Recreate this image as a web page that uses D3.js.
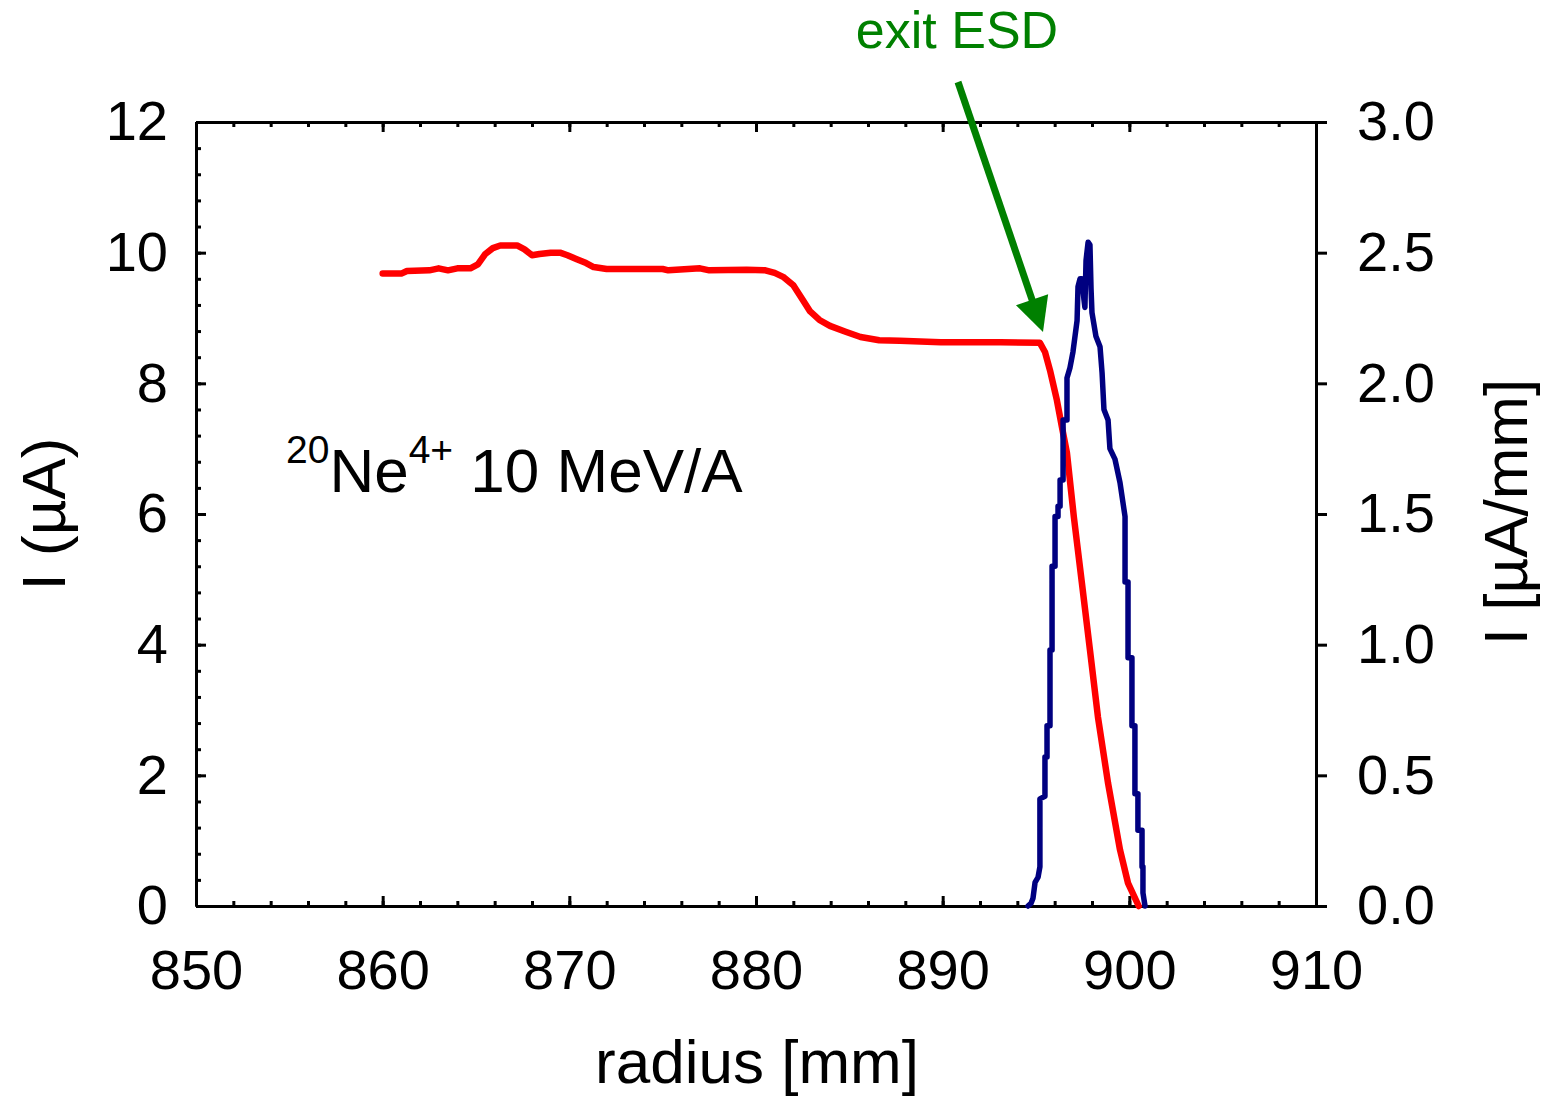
<!DOCTYPE html>
<html>
<head>
<meta charset="utf-8">
<script src="https://cdn.jsdelivr.net/npm/d3@7"></script>
<style>
  html, body { margin: 0; padding: 0; background: #fff; }
  svg { display: block; font-family: "Liberation Sans", Arial, sans-serif; }
</style>
</head>
<body>
<svg id="chart" width="1546" height="1097"></svg>
<script>
// Integrated beam current I (µA) versus radius, left axis
const currentRadius = [
  860.0, 861.0, 861.3, 862.5, 863.0, 863.5, 864.0, 864.7, 865.1, 865.5,
  865.9, 866.3, 867.2, 867.6, 868.0, 868.4, 869.0, 869.5, 869.9, 870.4,
  870.9, 871.3, 872.0, 875.0, 875.3, 877.0, 877.5, 879.5, 880.5, 881.0,
  881.45, 882.0, 882.5, 882.9, 883.4, 883.96, 884.8, 885.6, 886.6, 887.7,
  889.9, 893.1, 895.21, 895.48, 895.75, 896.12, 896.39, 896.66, 897.03, 897.46,
  897.89, 898.32, 898.86, 899.5, 899.93, 900.5
];
const currentValues = [
  9.68, 9.68, 9.72, 9.73, 9.76, 9.73, 9.76, 9.76, 9.82, 9.98,
  10.07, 10.11, 10.11, 10.05, 9.96, 9.98, 10.0, 10.0, 9.96, 9.9,
  9.84, 9.78, 9.75, 9.75, 9.73, 9.76, 9.73, 9.74, 9.73, 9.69,
  9.63, 9.5, 9.28, 9.1, 8.97, 8.88, 8.79, 8.71, 8.66, 8.65,
  8.63, 8.63, 8.62, 8.48, 8.2, 7.74, 7.33, 6.93, 5.95, 4.94,
  3.92, 2.89, 1.88, 0.86, 0.35, 0.0
];

// Current density dI/dr (µA/mm) versus radius, right axis
const densityRadius = [
  894.57, 894.73, 894.84, 894.95, 895.11, 895.21, 895.21, 895.48, 895.48, 895.59,
  895.59, 895.75, 895.75, 895.86, 895.86, 896.02, 896.02, 896.18, 896.18, 896.29,
  896.29, 896.45, 896.45, 896.66, 896.66, 896.82, 896.98, 897.2, 897.25, 897.36,
  897.46, 897.57, 897.62, 897.68, 897.79, 897.89, 897.95, 898.0, 898.21, 898.43,
  898.54, 898.64, 898.86, 898.96, 899.23, 899.5, 899.77, 899.77, 899.93, 899.93,
  900.14, 900.14, 900.3, 900.3, 900.46, 900.46, 900.68, 900.68, 900.73, 900.73,
  900.84
];
const densityValues = [
  0.0, 0.01, 0.03, 0.09, 0.11, 0.15, 0.41, 0.42, 0.57, 0.57,
  0.69, 0.69, 0.98, 0.98, 1.3, 1.3, 1.49, 1.49, 1.53, 1.53,
  1.63, 1.63, 1.86, 1.86, 2.02, 2.06, 2.12, 2.24, 2.37, 2.4,
  2.4, 2.32, 2.29, 2.47, 2.54, 2.53, 2.36, 2.27, 2.18, 2.14,
  2.04, 1.9, 1.86, 1.75, 1.71, 1.62, 1.49, 1.24, 1.24, 0.95,
  0.95, 0.69, 0.69, 0.43, 0.43, 0.29, 0.29, 0.15, 0.15, 0.05,
  0.0
];

// Axis ticks
const xMajorTicks = [850, 860, 870, 880, 890, 900, 910];
const xMinorTicks = d3.range(850, 910.001, 2);
const yLeftTicks = [0, 2, 4, 6, 8, 10, 12];
const yLeftMinorTicks = d3.range(0, 12.001, 0.4);
const yRightTicks = [0, 0.5, 1.0, 1.5, 2.0, 2.5, 3.0];

const plot = { left: 196, right: 1316, top: 122, bottom: 906 };
const svg = d3.select("#chart");

const x = d3.scaleLinear().domain([850, 910]).range([plot.left, plot.right]);
const yL = d3.scaleLinear().domain([0, 12]).range([plot.bottom, plot.top]);
const yR = d3.scaleLinear().domain([0, 3]).range([plot.bottom, plot.top]);

const tickFont = 56;

function styleAxis(g) {
  g.selectAll("path.domain").attr("stroke", "#000").attr("stroke-width", 3);
  g.selectAll(".tick line").attr("stroke", "#000").attr("stroke-width", 3);
  g.selectAll(".tick text")
    .attr("fill", "#000")
    .style("font-family", "'Liberation Sans', Arial, sans-serif")
    .style("font-size", tickFont + "px");
  g.attr("font-family", null).attr("font-size", null);
}

// Bottom axis: minor then major ticks, pointing inward
svg.append("g").attr("transform", `translate(0,${plot.bottom})`)
  .call(d3.axisBottom(x).tickValues(xMinorTicks).tickSize(-5).tickSizeOuter(0).tickFormat(""))
  .call(styleAxis);
svg.append("g").attr("transform", `translate(0,${plot.bottom})`)
  .call(d3.axisBottom(x).tickValues(xMajorTicks).tickSize(-10).tickSizeOuter(0).tickPadding(43).tickFormat(d3.format("d")))
  .call(styleAxis);

// Top axis: ticks only
svg.append("g").attr("transform", `translate(0,${plot.top})`)
  .call(d3.axisTop(x).tickValues(xMinorTicks).tickSize(-5).tickSizeOuter(0).tickFormat(""))
  .call(styleAxis);
svg.append("g").attr("transform", `translate(0,${plot.top})`)
  .call(d3.axisTop(x).tickValues(xMajorTicks).tickSize(-10).tickSizeOuter(0).tickFormat(""))
  .call(styleAxis);

// Left axis
svg.append("g").attr("transform", `translate(${plot.left},0)`)
  .call(d3.axisLeft(yL).tickValues(yLeftMinorTicks).tickSize(-5).tickSizeOuter(0).tickFormat(""))
  .call(styleAxis);
svg.append("g").attr("transform", `translate(${plot.left},0)`)
  .call(d3.axisLeft(yL).tickValues(yLeftTicks).tickSize(-10).tickSizeOuter(0).tickPadding(28).tickFormat(d3.format("d")))
  .call(styleAxis);

// Right axis, ticks pointing outward
svg.append("g").attr("transform", `translate(${plot.right},0)`)
  .call(d3.axisRight(yR).tickValues(yRightTicks).tickSize(11).tickSizeOuter(0).tickPadding(30).tickFormat(d3.format(".1f")))
  .call(styleAxis);

// Data lines
const currentData = currentRadius.map((r, i) => [r, currentValues[i]]);
const densityData = densityRadius.map((r, i) => [r, densityValues[i]]);

svg.append("path")
  .datum(currentData)
  .attr("fill", "none")
  .attr("stroke", "#ff0000")
  .attr("stroke-width", 6.5)
  .attr("stroke-linejoin", "round")
  .attr("stroke-linecap", "round")
  .attr("d", d3.line().x(d => x(d[0])).y(d => yL(d[1])));

svg.append("path")
  .datum(densityData)
  .attr("fill", "none")
  .attr("stroke", "#000080")
  .attr("stroke-width", 5.5)
  .attr("stroke-linejoin", "round")
  .attr("stroke-linecap", "round")
  .attr("d", d3.line().x(d => x(d[0])).y(d => yR(d[1])));

// Axis titles
svg.append("text")
  .attr("x", 757).attr("y", 1083)
  .attr("text-anchor", "middle")
  .style("font-size", "62px")
  .text("radius [mm]");

svg.append("text")
  .attr("transform", "translate(65,514) rotate(-90)")
  .attr("text-anchor", "middle")
  .style("font-size", "62px")
  .text("I (µA)");

svg.append("text")
  .attr("transform", "translate(1527,512) rotate(-90)")
  .attr("text-anchor", "middle")
  .style("font-size", "62px")
  .text("I [µA/mm]");

// Beam label
const beam = svg.append("text").attr("x", 286).attr("y", 492);
beam.append("tspan").attr("dy", -29).style("font-size", "39px").text("20");
beam.append("tspan").attr("dy", 29).style("font-size", "62px").text("Ne");
beam.append("tspan").attr("dy", -29).style("font-size", "39px").text("4+");
beam.append("tspan").attr("dy", 29).style("font-size", "62px").text(" 10 MeV/A");

// Annotation: exit of the electrostatic deflector
const green = "#008000";
svg.append("text")
  .attr("x", 957).attr("y", 48)
  .attr("text-anchor", "middle")
  .attr("fill", green)
  .style("font-size", "52px")
  .text("exit ESD");

const tail = [958, 82];
const tip = [1043, 332];
const ang = Math.atan2(tip[1] - tail[1], tip[0] - tail[0]);
const headLen = 34, headHalf = 17;
const baseMid = [tip[0] - headLen * Math.cos(ang), tip[1] - headLen * Math.sin(ang)];
svg.append("line")
  .attr("x1", tail[0]).attr("y1", tail[1])
  .attr("x2", baseMid[0] + 2 * Math.cos(ang)).attr("y2", baseMid[1] + 2 * Math.sin(ang))
  .attr("stroke", green).attr("stroke-width", 7);
svg.append("path")
  .attr("fill", green)
  .attr("d", d3.line()([
    tip,
    [baseMid[0] + headHalf * Math.sin(ang), baseMid[1] - headHalf * Math.cos(ang)],
    [baseMid[0] - headHalf * Math.sin(ang), baseMid[1] + headHalf * Math.cos(ang)]
  ]) + "Z");
</script>
</body>
</html>
